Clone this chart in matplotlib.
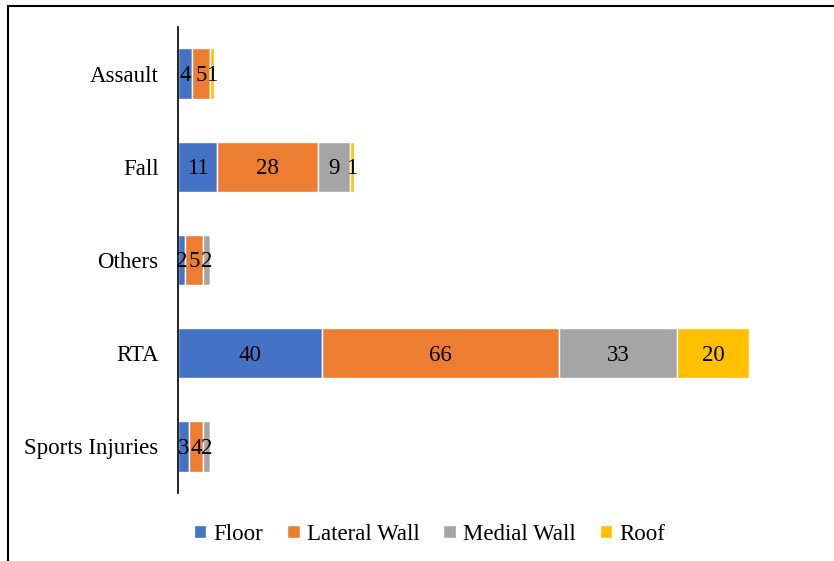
import matplotlib.pyplot as plt
from matplotlib.patches import Rectangle

categories = ['Assault', 'Fall', 'Others', 'RTA', 'Sports Injuries']
floor = [4, 11, 2, 40, 3]
lateral_wall = [5, 28, 5, 66, 4]
medial_wall = [0, 9, 2, 33, 2]
roof = [1, 1, 0, 20, 0]

series = [('Floor', floor, '#4472C4'),
          ('Lateral Wall', lateral_wall, '#ED7D31'),
          ('Medial Wall', medial_wall, '#A5A5A5'),
          ('Roof', roof, '#FFC000')]

plt.rcParams['font.family'] = ['Liberation Serif', 'DejaVu Serif']

fig = plt.figure(figsize=(8.34, 5.61), dpi=100, facecolor='white')
ax = fig.add_axes([0.2134, 0.1212, 0.775, 0.8307])

y = list(range(len(categories)))
left = [0] * len(categories)
for name, vals, color in series:
    bars = ax.barh(y, vals, left=left, height=0.54, color=color,
                   edgecolor='white', linewidth=1, label=name)
    for b, v in zip(bars, vals):
        if v > 0:
            ax.text(b.get_x() + b.get_width() / 2, b.get_y() + b.get_height() / 2 + 0.02,
                    str(v), ha='center', va='center', fontsize=16.5, color='black')
    left = [l + v for l, v in zip(left, vals)]

ax.set_ylim(4.5, -0.5)
ax.set_xlim(0, 180)
ax.set_yticks(y)
ax.set_yticklabels(categories, fontsize=16.5)
ax.tick_params(axis='y', length=0, pad=14)
ax.set_xticks([])
for s in ['top', 'right', 'bottom']:
    ax.spines[s].set_visible(False)
ax.spines['left'].set_linewidth(1.2)

fig.legend(loc='center', bbox_to_anchor=(0.515, 0.048), ncol=4, frameon=False,
           fontsize=16.5, handlelength=0.55, handleheight=0.55, handletextpad=0.3,
           columnspacing=1.05)

fig.patches.append(Rectangle((0.0096, -0.1), 1.2, 1.089, transform=fig.transFigure,
                             fill=False, edgecolor='black', linewidth=1.5))

plt.savefig('out.png', dpi=100)
plt.close()
